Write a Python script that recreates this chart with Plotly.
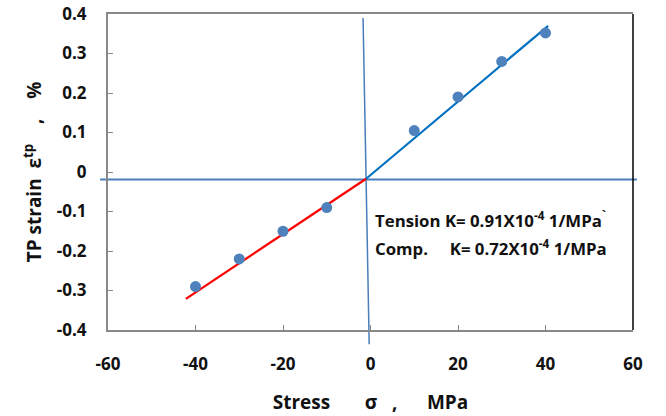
import plotly.graph_objects as go

# Data
stress = [-40, -30, -20, -10, 10, 20, 30, 40]
strain = [-0.29, -0.22, -0.15, -0.09, 0.105, 0.19, 0.28, 0.352]

comp_fit_x = [-42.2, -1.0]
comp_fit_y = [-0.321, -0.017]
tens_fit_x = [-1.0, 40.6]
tens_fit_y = [-0.017, 0.37]

# slanted "vertical" and horizontal reference lines (data units)
vline_x = [-1.7, -0.3]
vline_y = [0.39, -0.436]
hline_x = [-61.8, 60.9]
hline_y = [-0.019, -0.019]

x_range = [-60, 60]
y_range = [-0.4, 0.4]
x_ticks = [-60, -40, -20, 0, 20, 40, 60]
x_tick_text = ["-60", "-40", "-20", "0", "20", "40", "60"]
y_ticks = [0.4, 0.3, 0.2, 0.1, 0, -0.1, -0.2, -0.3, -0.4]
y_tick_text = ["0.4", "0.3", "0.2", "0.1", "0", "-0.1", "-0.2", "-0.3", "-0.4"]

FONT = "Open Sans"
AX = "#888888"
CROSS = "#4A7EBB"


def xpaper(v):
    return (v - x_range[0]) / (x_range[1] - x_range[0])


def ypaper(v):
    return (v - y_range[0]) / (y_range[1] - y_range[0])


fig = go.Figure()
fig.add_trace(go.Scatter(x=comp_fit_x, y=comp_fit_y, mode="lines",
                         line=dict(color="#FF0000", width=2.2)))
fig.add_trace(go.Scatter(x=tens_fit_x, y=tens_fit_y, mode="lines",
                         line=dict(color="#0070C0", width=2.2)))
fig.add_trace(go.Scatter(x=stress, y=strain, mode="markers",
                         marker=dict(color="#4F81BD", size=11)))

# reference lines (mixed refs so they may extend past the axes)
fig.add_shape(type="line", xref="x", yref="paper",
              x0=vline_x[0], x1=vline_x[1],
              y0=ypaper(vline_y[0]), y1=ypaper(vline_y[1]),
              line=dict(color=CROSS, width=1.5), layer="below")
fig.add_shape(type="line", xref="paper", yref="y",
              x0=xpaper(hline_x[0]), x1=xpaper(hline_x[1]),
              y0=hline_y[0], y1=hline_y[1],
              line=dict(color=CROSS, width=1.8), layer="below")

ann_font = dict(family=FONT, size=16.8, color="#111111", weight="bold")
fig.add_annotation(x=0.6, y=-0.121, xref="x", yref="y", xanchor="left", yanchor="middle",
                   text="<b>Tension K= 0.91X10<sup>-4</sup> 1/MPa<sup>`</sup></b>",
                   showarrow=False, font=ann_font)
fig.add_annotation(x=0.6, y=-0.19, xref="x", yref="y", xanchor="left", yanchor="middle",
                   text="<b>Comp.     K= 0.72X10<sup>-4</sup> 1/MPa</b>",
                   showarrow=False, font=ann_font)

# right border in black
fig.add_shape(type="line", xref="paper", yref="paper", x0=1, x1=1, y0=0, y1=1,
              line=dict(color="#000000", width=1.5))

fig.update_layout(
    width=666, height=416,
    margin=dict(l=108, r=33, t=14, b=86),
    paper_bgcolor="white", plot_bgcolor="white",
    showlegend=False,
    font=dict(family=FONT, size=17, color="#111111", weight="bold"),
    xaxis=dict(range=x_range, tickvals=x_ticks,
               ticktext=["<b>%s</b>" % t for t in x_tick_text],
               showgrid=False, zeroline=False, automargin=False,
               showline=True, linecolor=AX, linewidth=2, mirror=True,
               ticks="inside", ticklen=5, tickcolor=AX, tickwidth=1,
               ticklabelstandoff=18,
               tickfont=dict(family=FONT, size=17, weight="bold", color="#111111"),
               title=dict(text="<b>Stress       σ   ,      MPa</b>", standoff=21,
                          font=dict(family=FONT, size=19, weight="bold", color="#111111"))),
    yaxis=dict(range=y_range, tickvals=y_ticks,
               ticktext=["<b>%s</b>" % t for t in y_tick_text],
               showgrid=False, zeroline=False, automargin=False,
               showline=True, linecolor=AX, linewidth=2,
               ticks="inside", ticklen=5, tickcolor=AX, tickwidth=1,
               ticklabelstandoff=16,
               tickfont=dict(family=FONT, size=17, weight="bold", color="#111111"),
               title=dict(text="<b>TP strain  ε<sup>tp</sup>    ,    %</b>", standoff=10,
                          font=dict(family=FONT, size=19, weight="bold", color="#111111"))),
)

fig.write_html("out.html")
